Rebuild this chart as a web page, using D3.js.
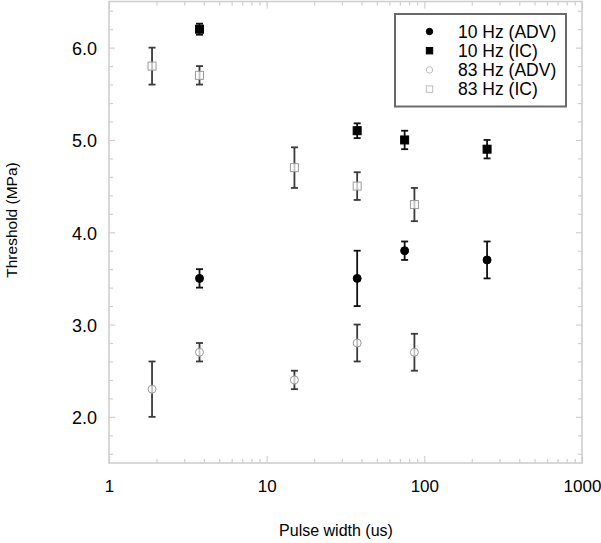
<!DOCTYPE html>
<html>
<head>
<meta charset="utf-8">
<script src="https://cdn.jsdelivr.net/npm/d3@7"></script>
<style>
  html, body { margin: 0; padding: 0; background: #fff; }
  svg { display: block; font-family: "Liberation Sans", Arial, Helvetica, sans-serif; }
</style>
</head>
<body>
<svg id="chart" width="601" height="543"></svg>
<script>
// ---- Data ----
const adv10X = [3.75, 37.5, 75, 250];
const adv10Y = [3.5, 3.5, 3.8, 3.7];
const adv10Err = [0.1, 0.3, 0.1, 0.2];

const ic10X = [3.75, 37.5, 75, 250];
const ic10Y = [6.2, 5.1, 5.0, 4.9];
const ic10Err = [0.06, 0.08, 0.1, 0.1];

const adv83X = [1.875, 3.75, 15, 37.5, 86.5];
const adv83Y = [2.3, 2.7, 2.4, 2.8, 2.7];
const adv83Err = [0.3, 0.1, 0.1, 0.2, 0.2];

const ic83X = [1.875, 3.75, 15, 37.5, 86.5];
const ic83Y = [5.8, 5.7, 4.7, 4.5, 4.3];
const ic83Err = [0.2, 0.1, 0.22, 0.15, 0.18];

const seriesNames = ["10 Hz (ADV)", "10 Hz (IC)", "83 Hz (ADV)", "83 Hz (IC)"];
const xTickValues = [1, 10, 100, 1000];
const xTickLabels = ["1", "10", "100", "1000"];
const yTickValues = [2, 3, 4, 5, 6];
const yTickLabels = ["2.0", "3.0", "4.0", "5.0", "6.0"];
const xTitle = "Pulse width (us)";
const yTitle = "Threshold (MPa)";

// ---- Layout ----
const svg = d3.select("#chart");
const L = 109, R = 582, T = 1.5, B = 463;
const x = d3.scaleLog().domain([1, 1000]).range([L, R]);
const y = d3.scaleLinear().domain([1.5, 6.5]).range([B, T]);

const axisColor = "#cfcfcf";

// minor ticks
const xMinor = [];
[1, 10, 100].forEach(d => { for (let k = 2; k <= 9; k++) xMinor.push(d * k); });
const yMinor = d3.range(16, 66, 2).map(v => v / 10).filter(v => Math.abs(v - Math.round(v)) > 1e-6);

function styleAxis(g) {
  g.select(".domain").remove();
  g.selectAll(".tick line").attr("stroke", axisColor).attr("stroke-width", 1.2);
}

// bottom
svg.append("g").attr("transform", `translate(0,${B})`)
  .call(d3.axisBottom(x).tickValues(xMinor).tickSize(-4).tickFormat(""))
  .call(styleAxis);
svg.append("g").attr("transform", `translate(0,${B})`)
  .call(d3.axisBottom(x).tickValues(xTickValues).tickSize(-7).tickPadding(17)
    .tickFormat((d, i) => xTickLabels[i]))
  .call(styleAxis)
  .call(g => g.selectAll("text").attr("fill", "#000").style("font-size", "17px")
    .style("font-family", "'Liberation Sans', Arial, sans-serif"));
// top
svg.append("g").attr("transform", `translate(0,${T})`)
  .call(d3.axisTop(x).tickValues(xMinor).tickSize(-4).tickFormat(""))
  .call(styleAxis);
svg.append("g").attr("transform", `translate(0,${T})`)
  .call(d3.axisTop(x).tickValues(xTickValues).tickSize(-7).tickFormat(""))
  .call(styleAxis);
// left
svg.append("g").attr("transform", `translate(${L},0)`)
  .call(d3.axisLeft(y).tickValues(yMinor).tickSize(-4).tickFormat(""))
  .call(styleAxis);
svg.append("g").attr("transform", `translate(${L},0)`)
  .call(d3.axisLeft(y).tickValues(yTickValues).tickSize(-6).tickPadding(12)
    .tickFormat((d, i) => yTickLabels[i]))
  .call(styleAxis)
  .call(g => g.selectAll("text").attr("fill", "#000").attr("dy", "0.38em").style("font-size", "18px")
    .style("font-family", "'Liberation Sans', Arial, sans-serif"));
// right
svg.append("g").attr("transform", `translate(${R},0)`)
  .call(d3.axisRight(y).tickValues(yMinor).tickSize(-4).tickFormat(""))
  .call(styleAxis);
svg.append("g").attr("transform", `translate(${R},0)`)
  .call(d3.axisRight(y).tickValues(yTickValues).tickSize(-6).tickFormat(""))
  .call(styleAxis);

// frame
svg.append("rect").attr("x", L).attr("y", T).attr("width", R - L).attr("height", B - T)
  .attr("fill", "none").attr("stroke", axisColor).attr("stroke-width", 1.6);

// ---- Series ----
const series = [
  { xs: adv10X, ys: adv10Y, es: adv10Err, shape: "circle", fill: "#000", stroke: "#000", bar: "#111" },
  { xs: ic10X, ys: ic10Y, es: ic10Err, shape: "square", fill: "#000", stroke: "#000", bar: "#111" },
  { xs: adv83X, ys: adv83Y, es: adv83Err, shape: "circle", fill: "rgba(255,255,255,0.7)", stroke: "#9a9a9a", bar: "#3a3a3a" },
  { xs: ic83X, ys: ic83Y, es: ic83Err, shape: "square", fill: "rgba(255,255,255,0.7)", stroke: "#9a9a9a", bar: "#3a3a3a" }
];

const plot = svg.append("g");
const cap = 3.5;
series.forEach(s => {
  const pts = s.xs.map((xv, i) => ({ x: xv, y: s.ys[i], e: s.es[i] }));
  const g = plot.append("g");
  // error bars
  const eb = g.selectAll("g.eb").data(pts).join("g").attr("class", "eb")
    .attr("stroke", s.bar).attr("stroke-width", 1.8);
  eb.append("line").attr("x1", d => x(d.x)).attr("x2", d => x(d.x))
    .attr("y1", d => y(d.y + d.e)).attr("y2", d => y(d.y - d.e));
  eb.append("line").attr("x1", d => x(d.x) - cap).attr("x2", d => x(d.x) + cap)
    .attr("y1", d => y(d.y + d.e)).attr("y2", d => y(d.y + d.e));
  eb.append("line").attr("x1", d => x(d.x) - cap).attr("x2", d => x(d.x) + cap)
    .attr("y1", d => y(d.y - d.e)).attr("y2", d => y(d.y - d.e));
  // markers
  if (s.shape === "circle") {
    g.selectAll("circle").data(pts).join("circle")
      .attr("cx", d => x(d.x)).attr("cy", d => y(d.y)).attr("r", 4)
      .attr("fill", s.fill).attr("stroke", s.stroke).attr("stroke-width", 1);
  } else {
    g.selectAll("rect").data(pts).join("rect")
      .attr("x", d => x(d.x) - 4).attr("y", d => y(d.y) - 4).attr("width", 8).attr("height", 8)
      .attr("fill", s.fill).attr("stroke", s.stroke).attr("stroke-width", 1);
  }
});

// ---- Legend ----
const lg = svg.append("g");
lg.append("rect").attr("x", 395).attr("y", 14).attr("width", 171).attr("height", 92.5)
  .attr("fill", "#fff").attr("stroke", "#6a6a6a").attr("stroke-width", 2);
const legendMarkers = [
  { shape: "circle", fill: "#000", stroke: "#000" },
  { shape: "square", fill: "#000", stroke: "#000" },
  { shape: "circle", fill: "#fff", stroke: "#bdbdbd" },
  { shape: "square", fill: "#fff", stroke: "#bdbdbd" }
];
seriesNames.forEach((name, i) => {
  const cy = 31.5 + i * 19.2;
  const m = legendMarkers[i];
  if (m.shape === "circle") {
    lg.append("circle").attr("cx", 429.5).attr("cy", cy).attr("r", 3.2)
      .attr("fill", m.fill).attr("stroke", m.stroke).attr("stroke-width", 1);
  } else {
    lg.append("rect").attr("x", 429.5 - 3.2).attr("y", cy - 3.2).attr("width", 6.4).attr("height", 6.4)
      .attr("fill", m.fill).attr("stroke", m.stroke).attr("stroke-width", 1);
  }
  lg.append("text").attr("x", 458).attr("y", cy + 6).attr("fill", "#000")
    .style("font-size", "17.5px").text(name);
});

// ---- Titles ----
svg.append("text").attr("x", 336).attr("y", 536).attr("text-anchor", "middle")
  .attr("fill", "#000").style("font-size", "16px").text(xTitle);
svg.append("text").attr("transform", "translate(16.5,220) rotate(-90)")
  .attr("text-anchor", "middle").attr("fill", "#000").style("font-size", "15.5px").text(yTitle);
</script>
</body>
</html>
